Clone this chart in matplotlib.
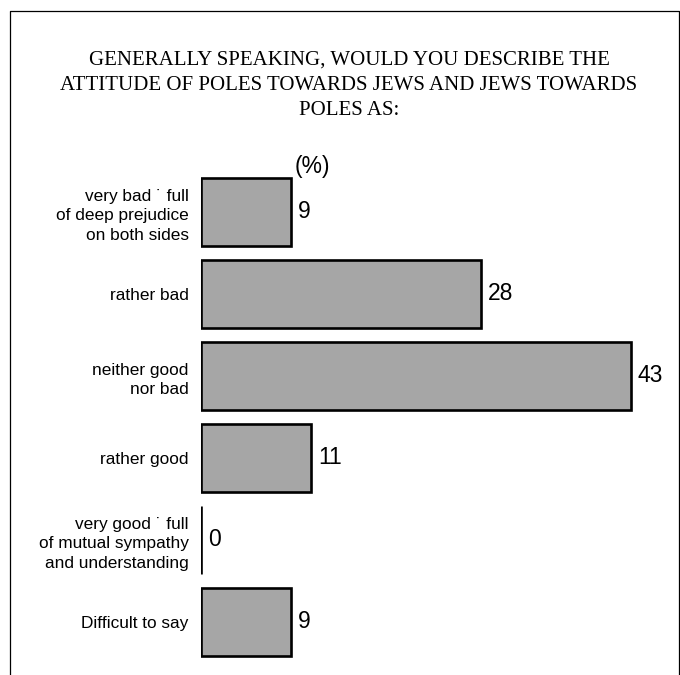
#!/usr/bin/env python3

import matplotlib

matplotlib.use('Agg')
import matplotlib.pyplot as plt
from matplotlib.lines import Line2D


TITLE = ('GENERALLY SPEAKING, WOULD YOU DESCRIBE THE\n'
         'ATTITUDE OF POLES TOWARDS JEWS AND JEWS TOWARDS\n'
         'POLES AS:')

CATEGORIES = [
    'very bad \u02d9 full\nof deep prejudice\non both sides',
    'rather bad',
    'neither good\nnor bad',
    'rather good',
    'very good \u02d9 full\nof mutual sympathy\nand understanding',
    'Difficult to say',
]
PERCENTS = [9, 28, 43, 11, 0, 9]

BAR_COLOR = '#a6a6a6'
OUTPUT = 'out.png'

W, H = 680, 675


def main():
    fig = plt.figure(figsize=(W / 100, H / 100), dpi=100)

    # frame around the figure, open at the bottom
    frame = Line2D([10 / W, 10 / W, 679 / W, 679 / W],
                   [0, 1 - 11 / H, 1 - 11 / H, 0],
                   transform=fig.transFigure, color='black', linewidth=0.9)
    fig.add_artist(frame)

    # baseline of the last title line
    fig.text(349 / W, 1 - 115 / H, TITLE, ha='center', va='baseline',
             family='Liberation Serif', fontsize=15, linespacing=1.43)

    # axes: 10 px per percent, 82 px per bar row
    left, right = 201, 671
    top, bottom = 170, 675
    ax = fig.add_axes([left / W, 1 - bottom / H, (right - left) / W, (bottom - top) / H])
    ax.set_xlim(0, (right - left) / 10)
    y_top = -(212 - top) / 82
    ax.set_ylim(y_top + (bottom - top) / 82, y_top)

    positions = list(range(len(CATEGORIES)))
    ax.barh(positions, PERCENTS, height=0.83, color=BAR_COLOR,
            edgecolor='black', linewidth=1.9)

    for pos, value in zip(positions, PERCENTS):
        ax.annotate(str(value), (value, pos), xytext=(7, 0),
                    textcoords='offset pixels', ha='left', va='center',
                    family='Liberation Sans', fontsize=16.5)

    ax.annotate('(%)', (PERCENTS[0], -0.415), xytext=(4, 0),
                textcoords='offset pixels', ha='left', va='bottom',
                family='Liberation Sans', fontsize=16.5)

    ax.set_yticks(positions)
    ax.set_yticklabels(CATEGORIES, family='Liberation Sans', fontsize=12.4,
                       linespacing=1.38)
    ax.tick_params(axis='y', length=0, pad=9)
    ax.set_xticks([])
    for spine in ax.spines.values():
        spine.set_visible(False)
    ax.patch.set_visible(False)

    fig.savefig(OUTPUT, dpi=100)
    plt.close(fig)


if __name__ == '__main__':
    main()
